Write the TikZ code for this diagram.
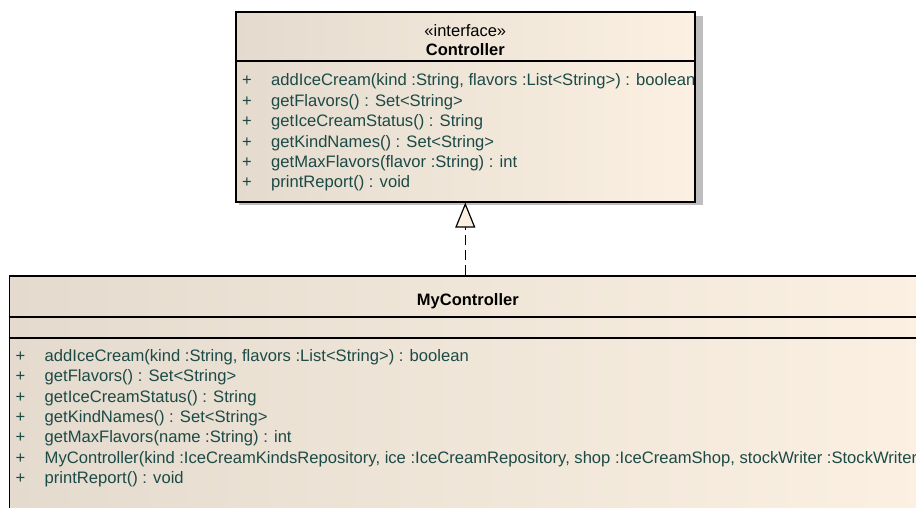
\documentclass[tikz,border=0pt]{standalone}
\usepackage{fontspec}
\setmainfont{Liberation Sans}
\usetikzlibrary{arrows.meta}
\definecolor{boxleft}{RGB}{228,219,206}
\definecolor{boxright}{RGB}{251,240,226}
\definecolor{membertext}{RGB}{28,74,70}
\definecolor{shadowgray}{RGB}{190,190,190}
\tikzset{classbox/.style={draw=black, line width=1.6pt, rectangle, inner sep=0pt,
    anchor=north west, left color=boxleft, right color=boxright},
  member/.style={anchor=base west, inner sep=0pt, text=membertext,
    font=\fontsize{16.6}{20}\selectfont},
  stereo/.style={anchor=base, inner sep=0pt, font=\fontsize{16.5}{20}\selectfont},
  classname/.style={anchor=base, inner sep=0pt, font=\fontsize{16.5}{20}\selectfont\bfseries},
  realize/.style={line width=1.5pt, dash pattern=on 10pt off 5pt,
    -{Triangle[length=25pt, width=20pt, fill=boxright, line width=1.2pt]}}
}
\newcommand{\op}[1]{\makebox[29pt][l]{+}#1}

\begin{document}
\begin{tikzpicture}[x=1pt, y=-1pt]
            \useasboundingbox (0,0) rectangle (916,508);
            \clip (0,0) rectangle (916,508);

            % Interface Controller
            \fill[shadowgray] (239,16) rectangle (703,205);
            \node[classbox, minimum width=459pt, minimum height=190pt] (ctrl) at (235,11) {};
            \draw[line width=1.6pt] (ctrl.west |- 0,61) -- (ctrl.east |- 0,61);
            \node[stereo] (ctrlstereo) at (ctrl.center |- 0,37) {«interface»};
            \node[classname] (ctrlname) at (ctrl.center |- 0,56) {Controller};

            \begin{scope}
            \clip (236,62) rectangle (693,200);
            \node[member] (ctrladd) at (242,86) {\op{addIceCream(kind :String, flavors :List<String>) : boolean}};
            \node[member] (ctrlflavors) at (242,106.4) {\op{getFlavors() : Set<String>}};
            \node[member] (ctrlstatus) at (242,126.8) {\op{getIceCreamStatus() : String}};
            \node[member] (ctrlkinds) at (242,147.2) {\op{getKindNames() : Set<String>}};
            \node[member] (ctrlmax) at (242,167.6) {\op{getMaxFlavors(flavor :String) : int}};
            \node[member] (ctrlreport) at (242,188) {\op{printReport() : void}};
            \end{scope}

            % Class MyController
            \node[classbox, minimum width=917pt, minimum height=260pt] (myctrl) at (8.5,275) {};
            \draw[line width=1.6pt] (myctrl.west |- 0,317) -- (myctrl.east |- 0,317);
            \draw[line width=1.6pt] (myctrl.west |- 0,338) -- (myctrl.east |- 0,338);
            \node[classname] (myname) at (myctrl.center |- 0,305) {MyController};

            \node[member] (myadd) at (15.5,361.5) {\op{addIceCream(kind :String, flavors :List<String>) : boolean}};
            \node[member] (myflavors) at (15.5,381.9) {\op{getFlavors() : Set<String>}};
            \node[member] (mystatus) at (15.5,402.2) {\op{getIceCreamStatus() : String}};
            \node[member] (mykinds) at (15.5,422.6) {\op{getKindNames() : Set<String>}};
            \node[member] (mymax) at (15.5,442.9) {\op{getMaxFlavors(name :String) : int}};
            \node[member] (mynew) at (15.5,463.3) {\op{MyController(kind :IceCreamKindsRepository, ice :IceCreamRepository, shop :IceCreamShop, stockWriter :StockWriter)}};
            \node[member] (myreport) at (15.5,483.6) {\op{printReport() : void}};

            % Realization
            \draw[realize] (myctrl.north -| ctrl.south) -- (ctrl.south);
        \end{tikzpicture}
\end{document}
